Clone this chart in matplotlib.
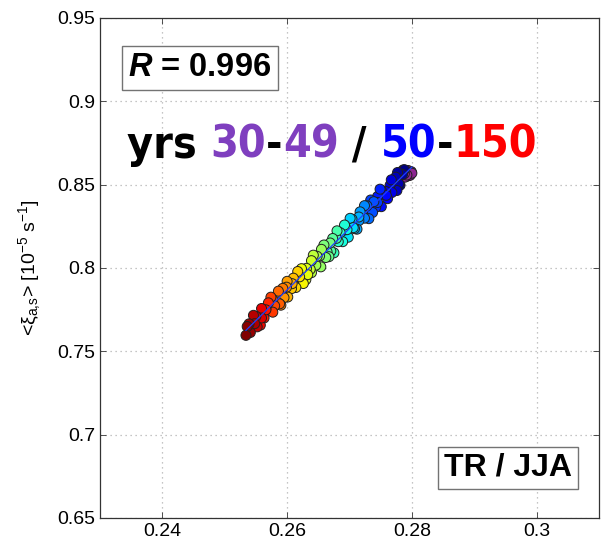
import numpy as np
import matplotlib
matplotlib.use("Agg")
import matplotlib.pyplot as plt
from matplotlib.colors import LinearSegmentedColormap

plt.rcParams["font.family"] = ["Liberation Sans", "DejaVu Sans"]
plt.rcParams["mathtext.fontset"] = "custom"
plt.rcParams["mathtext.rm"] = "Liberation Sans"
plt.rcParams["mathtext.it"] = "Liberation Sans:italic:bold"
plt.rcParams["mathtext.bf"] = "Liberation Sans:bold"

# ---------------------------------------------------------------------------
# Data
# ---------------------------------------------------------------------------

years_early = np.arange(30, 50)
x_early = [0.2792, 0.2796, 0.2789, 0.2798, 0.2785, 0.2793, 0.2787, 0.2799, 0.2782, 0.2794,
           0.2790, 0.2797, 0.2786, 0.2781, 0.2795, 0.2789, 0.2800, 0.2784, 0.2792, 0.2788]
y_early = [0.8578, 0.8570, 0.8581, 0.8565, 0.8560, 0.8552, 0.8573, 0.8578, 0.8548, 0.8585,
           0.8562, 0.8556, 0.8588, 0.8567, 0.8574, 0.8545, 0.8569, 0.8576, 0.8558, 0.8566]

years_late = np.arange(50, 151)
x_late = [0.2788, 0.2781, 0.2785, 0.2777, 0.2779, 0.2774, 0.2776, 0.2765, 0.2767, 0.2768,
          0.2758, 0.2761, 0.2751, 0.2759, 0.2751, 0.2745, 0.2749, 0.2742, 0.2745, 0.2734,
          0.2737, 0.2739, 0.2728, 0.2731, 0.2720, 0.2724, 0.2724, 0.2715, 0.2717, 0.2712,
          0.2715, 0.2704, 0.2708, 0.2701, 0.2706, 0.2698, 0.2691, 0.2696, 0.2689, 0.2692,
          0.2682, 0.2685, 0.2675, 0.2679, 0.2680, 0.2670, 0.2673, 0.2664, 0.2667, 0.2669,
          0.2659, 0.2662, 0.2652, 0.2654, 0.2655, 0.2646, 0.2648, 0.2639, 0.2642, 0.2637,
          0.2639, 0.2630, 0.2631, 0.2633, 0.2623, 0.2626, 0.2615, 0.2620, 0.2614, 0.2617,
          0.2607, 0.2610, 0.2601, 0.2608, 0.2600, 0.2595, 0.2599, 0.2590, 0.2593, 0.2584,
          0.2586, 0.2588, 0.2577, 0.2580, 0.2574, 0.2577, 0.2566, 0.2570, 0.2563, 0.2566,
          0.2557, 0.2559, 0.2559, 0.2550, 0.2552, 0.2546, 0.2548, 0.2539, 0.2541, 0.2536,
          0.2534]
y_late = [0.8590, 0.8497, 0.8561, 0.8573, 0.8506, 0.8545, 0.8465, 0.8496, 0.8529, 0.8453,
          0.8459, 0.8416, 0.8465, 0.8436, 0.8368, 0.8429, 0.8473, 0.8364, 0.8393, 0.8408,
          0.8333, 0.8398, 0.8373, 0.8296, 0.8333, 0.8299, 0.8374, 0.8284, 0.8337, 0.8233,
          0.8306, 0.8293, 0.8236, 0.8298, 0.8242, 0.8185, 0.8227, 0.8230, 0.8158, 0.8258,
          0.8158, 0.8212, 0.8091, 0.8178, 0.8223, 0.8102, 0.8177, 0.8097, 0.8068, 0.8150,
          0.8138, 0.8063, 0.8072, 0.8007, 0.8112, 0.8017, 0.8070, 0.7972, 0.8077, 0.7992,
          0.8044, 0.7930, 0.7998, 0.7960, 0.7996, 0.7907, 0.7946, 0.7947, 0.7883, 0.7979,
          0.7876, 0.7939, 0.7826, 0.7906, 0.7920, 0.7822, 0.7885, 0.7777, 0.7878, 0.7796,
          0.7861, 0.7785, 0.7808, 0.7773, 0.7825, 0.7735, 0.7756, 0.7791, 0.7700, 0.7749,
          0.7657, 0.7757, 0.7700, 0.7710, 0.7647, 0.7716, 0.7666, 0.7665, 0.7613, 0.7649,
          0.7596]

R_VALUE = 0.996
PURPLE = "#7f3fbf"

# ---------------------------------------------------------------------------
# Plot
# ---------------------------------------------------------------------------

fig = plt.figure(figsize=(6.06, 5.48), dpi=100)
ax = fig.add_axes([100 / 606, 30 / 548, 499 / 606, 500 / 548])

purples = LinearSegmentedColormap.from_list("purples", ["#4a0a5e", "#9a2a9a"])

ax.scatter(x_early, y_early, c=years_early, cmap=purples, s=52,
           edgecolors="#202020", linewidths=0.7, zorder=3)
ax.scatter(x_late, y_late, c=years_late, cmap="jet", vmin=50, vmax=150, s=52,
           edgecolors="#202020", linewidths=0.7, zorder=3)

# linear fit through all points
x_all = np.concatenate([x_early, x_late])
y_all = np.concatenate([y_early, y_late])
p = np.polyfit(x_all, y_all, 1)
xf = np.array([x_all.min(), x_all.max()])
ax.plot(xf, np.polyval(p, xf), color="#1f3fff", linewidth=0.9, zorder=4)

ax.set_xlim(0.23, 0.31)
ax.set_ylim(0.65, 0.95)
ax.set_xticks([0.24, 0.26, 0.28, 0.30])
ax.set_xticklabels(["0.24", "0.26", "0.28", "0.3"])
ax.set_yticks([0.65, 0.7, 0.75, 0.8, 0.85, 0.9, 0.95])
ax.set_yticklabels(["0.65", "0.7", "0.75", "0.8", "0.85", "0.9", "0.95"])
ax.tick_params(direction="in", length=4, width=0.6, labelsize=14, top=True, right=True,
               colors="#333333", labelcolor="black")
ax.grid(True, linestyle=(0, (1, 3)), color="0.7", linewidth=0.9)
for sp in ax.spines.values():
    sp.set_linewidth(0.9)
    sp.set_color("#333333")

ax.set_ylabel(r"<ξ$_{\mathrm{a{,}s}}$> [10$^{\mathrm{-5}}$ s$^{\mathrm{-1}}$]", fontsize=14, labelpad=10)

# annotation boxes
ax.text(0.2004, 0.90, r"$R$ = %.3f" % R_VALUE, transform=ax.transAxes, fontsize=23.5,
        fontweight="bold", ha="center", va="center",
        bbox=dict(boxstyle="square,pad=0.2", fc="white", ec="0.45", lw=1))
ax.text(0.8176, 0.10, "TR / JJA", transform=ax.transAxes, fontsize=23,
        fontweight="bold", ha="center", va="center",
        bbox=dict(boxstyle="square,pad=0.2", fc="white", ec="0.45", lw=1))

# multicoloured year label
pieces = ["yrs ", "30", "-", "49", " / ", "50", "-", "150"]
colors = ["black", PURPLE, "black", PURPLE, "black", "#0000ff", "black", "#ff0000"]
tp = dict(fontsize=32, fontweight="bold", family="DejaVu Sans", fontstretch="condensed")
txt = ax.text(0.054, 0.72, pieces[0], transform=ax.transAxes, color=colors[0],
              va="baseline", **tp)
for s, c in zip(pieces[1:], colors[1:]):
    txt = ax.annotate(s, xycoords=txt, xy=(1, 0), va="bottom", color=c, **tp)

plt.savefig("out.png", dpi=100)
plt.close()
print("Saved: out.png")
